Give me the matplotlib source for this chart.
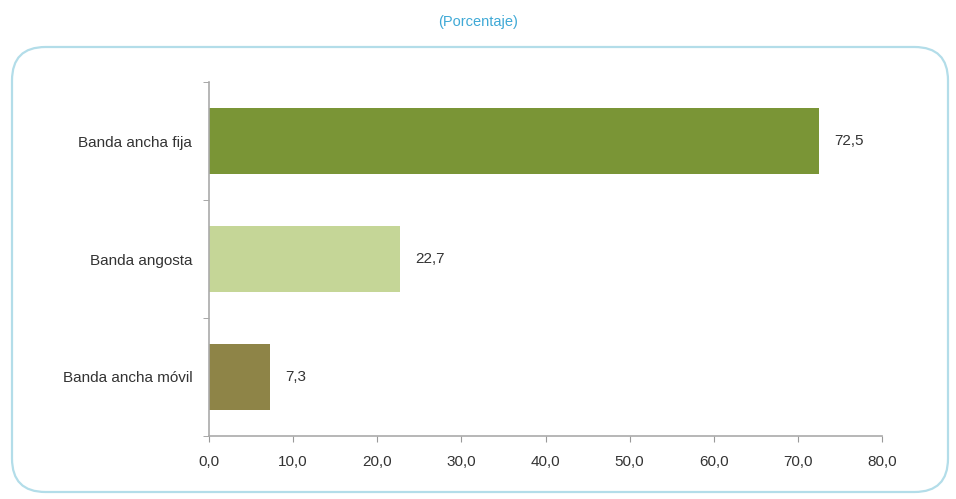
import matplotlib
matplotlib.use("Agg")
import matplotlib.pyplot as plt
from matplotlib.patches import FancyBboxPatch

categories = ["Banda ancha fija", "Banda angosta", "Banda ancha móvil"]
values = [72.5, 22.7, 7.3]
value_labels = ["72,5", "22,7", "7,3"]
colors = ["#7a9536", "#c5d697", "#8e8447"]
xticks = [0, 10, 20, 30, 40, 50, 60, 70, 80]
xtick_labels = ["0,0", "10,0", "20,0", "30,0", "40,0", "50,0", "60,0", "70,0", "80,0"]
subtitle = "(Porcentaje)"

plt.rcParams['font.family'] = ['Liberation Sans', 'DejaVu Sans']
fs = 11

fig = plt.figure(figsize=(9.56, 4.99), dpi=100)
fig.patch.set_facecolor("white")

box = FancyBboxPatch((12/956, 1-492/499), (948-12)/956, (492-47)/499,
                     boxstyle="round,pad=0,rounding_size=0.035",
                     transform=fig.transFigure, facecolor="none",
                     edgecolor="#b3dde9", linewidth=1.6, zorder=-1,
                     mutation_aspect=956/499)
fig.patches.append(box)

fig.text(0.5, 1-22/499, subtitle, ha="center", va="center",
         color="#3fa9d6", fontsize=10.5)

ax = fig.add_axes([209/956, 1-436/499, (882-209)/956, (436-82)/499])
ax.set_facecolor("none")
y = list(range(len(categories)))
ax.barh(y, values, height=0.56, color=colors, zorder=2)
for yi, v, lab in zip(y, values, value_labels):
    ax.text(v + 1.8, yi, lab, va="center", ha="left", fontsize=fs, color="#333333")

ax.set_xlim(0, 80)
ax.set_ylim(2.5, -0.5)
ax.set_xticks(xticks)
ax.set_xticklabels(xtick_labels, fontsize=fs, color="#333333")
ax.set_yticks(y)
ax.set_yticklabels(categories, fontsize=fs, color="#333333")
ax.tick_params(axis="y", which="major", length=0, pad=12)
ax.set_yticks([-0.5, 0.5, 1.5, 2.5], minor=True)
ax.tick_params(axis="y", which="minor", length=4, color="#999999", direction="out")
ax.tick_params(axis="x", length=4, color="#999999", pad=10)
for s in ["top", "right"]:
    ax.spines[s].set_visible(False)
for s in ["left", "bottom"]:
    ax.spines[s].set_color("#aaaaaa")
    ax.spines[s].set_linewidth(1.2)

fig.savefig("out.png", dpi=100)
